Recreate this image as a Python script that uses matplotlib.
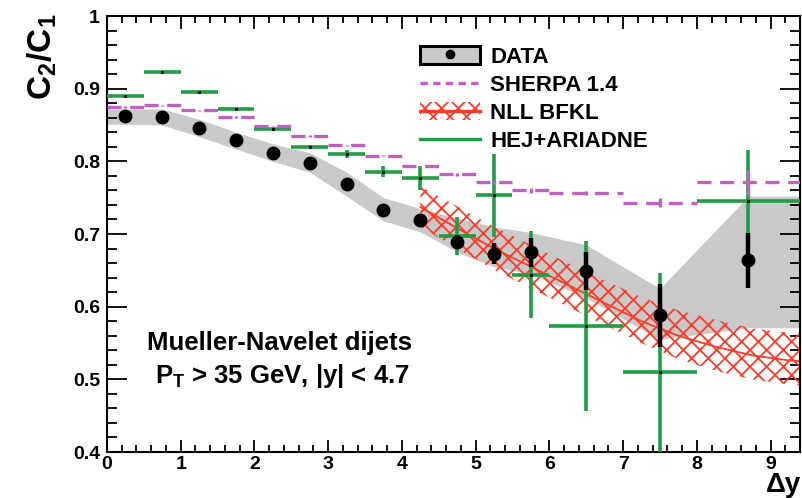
import matplotlib
matplotlib.use("Agg")
import matplotlib.pyplot as plt
import numpy as np
from matplotlib.lines import Line2D
from matplotlib.patches import Patch
from matplotlib.ticker import MultipleLocator, FuncFormatter

# ---- data ---------------------------------------------------------------
bin_edges = [0.0, 0.5, 1.0, 1.5, 2.0, 2.5, 3.0, 3.5, 4.0, 4.5, 5.0, 5.5, 6.0, 7.0, 8.0, 9.4]

data_val = [0.862, 0.861, 0.846, 0.829, 0.812, 0.798, 0.769, 0.733, 0.719,
            0.689, 0.673, 0.675, 0.649, 0.588, 0.664]
data_stat = [0.002, 0.002, 0.002, 0.002, 0.002, 0.002, 0.003, 0.003, 0.004,
             0.010, 0.014, 0.020, 0.026, 0.043, 0.038]
sys_hi = [0.872, 0.872, 0.858, 0.840, 0.824, 0.812, 0.785, 0.750, 0.735,
          0.722, 0.710, 0.702, 0.685, 0.625, 0.752]
sys_lo = [0.851, 0.850, 0.834, 0.817, 0.800, 0.785, 0.752, 0.718, 0.703,
          0.675, 0.655, 0.645, 0.612, 0.555, 0.571]

sherpa_val = [0.875, 0.877, 0.870, 0.861, 0.848, 0.835, 0.822, 0.808, 0.793,
              0.782, 0.771, 0.760, 0.756, 0.743, 0.771]
sherpa_err = [0.001, 0.001, 0.001, 0.001, 0.001, 0.001, 0.001, 0.001, 0.001,
              0.002, 0.002, 0.003, 0.003, 0.006, 0.017]

hej_val = [0.890, 0.923, 0.896, 0.872, 0.844, 0.820, 0.810, 0.786, 0.777,
           0.697, 0.753, 0.644, 0.573, 0.510, 0.745]
hej_err = [0.001, 0.001, 0.001, 0.001, 0.001, 0.002, 0.005, 0.008, 0.016,
           0.026, 0.057, 0.060, 0.117, 0.137, 0.071]

nll_x = [4.25, 4.75, 5.25, 5.75, 6.25, 6.75, 7.25, 7.75, 8.25, 8.75, 9.25, 9.4]
nll_val = [0.737, 0.708, 0.680, 0.655, 0.630, 0.605, 0.580, 0.560, 0.545, 0.533, 0.526, 0.525]
nll_hi = [0.766, 0.738, 0.710, 0.685, 0.660, 0.636, 0.613, 0.595, 0.582, 0.570, 0.564, 0.563]
nll_lo = [0.710, 0.680, 0.651, 0.625, 0.600, 0.575, 0.550, 0.528, 0.512, 0.500, 0.493, 0.492]

legend_labels = ["DATA", "SHERPA 1.4", "NLL BFKL", "HEJ+ARIADNE"]
text_lines = ["Mueller-Navelet dijets", "P$_T$ > 35 GeV, |y| < 4.7"]

# ---- style --------------------------------------------------------------
FONT = "Liberation Sans"
plt.rcParams["font.family"] = [FONT, "DejaVu Sans"]
plt.rcParams["font.weight"] = "bold"
plt.rcParams["mathtext.fontset"] = "custom"
plt.rcParams["mathtext.rm"] = FONT + ":bold"
plt.rcParams["mathtext.bf"] = FONT + ":bold"
plt.rcParams["mathtext.default"] = "rm"
plt.rcParams["hatch.linewidth"] = 1.3

GREEN = "#1f9e45"
MAGENTA = "#c060bf"
RED = "#ff3a26"
GRAY = "#c9c9c9"

edges = np.array(bin_edges)
centers = 0.5 * (edges[:-1] + edges[1:])
half_w = 0.5 * np.diff(edges)

fig = plt.figure(figsize=(8.02, 4.98), dpi=100)
W, H = 802.0, 498.0
ax = fig.add_axes([107 / W, 1 - 452 / H, (800 - 107) / W, (452 - 16) / H])

# systematic band of the measurement
band_x = np.concatenate([[edges[0]], centers, [edges[-1]]])
band_hi = np.concatenate([[sys_hi[0]], sys_hi, [sys_hi[-1]]])
band_lo = np.concatenate([[sys_lo[0]], sys_lo, [sys_lo[-1]]])
ax.fill_between(band_x, band_lo, band_hi, color=GRAY, lw=0, zorder=1)

# NLL BFKL prediction: hatched uncertainty band with central curve
ax.fill_between(nll_x, nll_lo, nll_hi, facecolor="none", edgecolor=RED,
                hatch="xx", linewidth=0, zorder=2)
ax.plot(nll_x, nll_val, color=RED, lw=1.3, zorder=2.2)
ax.axhline(0.4, color=RED, lw=1.2, zorder=2.1)

# HEJ+ARIADNE
ax.errorbar(centers, hej_val, xerr=half_w, yerr=hej_err, fmt="none",
            ecolor=GREEN, elinewidth=2.6, capsize=0, zorder=3)
ax.plot(centers, hej_val, "s", color="black", ms=1.2, zorder=3.1)

# SHERPA 1.4 (dashed)
sh = ax.errorbar(centers, sherpa_val, xerr=half_w, yerr=sherpa_err, fmt="none",
                 ecolor=MAGENTA, elinewidth=2.4, capsize=0, zorder=3.5)
sh[2][0].set_linestyle((0, (4.2, 2.6)))

# data with statistical errors
ax.errorbar(centers, data_val, yerr=data_stat, fmt="o", color="black",
            ms=9, elinewidth=3.2, capsize=0, zorder=4)

# axes
ax.set_xlim(edges[0], edges[-1])
ax.set_ylim(0.4, 1.0)
ax.xaxis.set_major_locator(MultipleLocator(1))
ax.xaxis.set_minor_locator(MultipleLocator(0.2))
ax.yaxis.set_major_locator(MultipleLocator(0.1))
ax.yaxis.set_minor_locator(MultipleLocator(0.02))
ax.yaxis.set_major_formatter(FuncFormatter(lambda v, p: "1" if abs(v - 1) < 1e-6 else f"{v:.1f}"))
ax.xaxis.set_major_formatter(FuncFormatter(lambda v, p: f"{v:.0f}"))

ax.tick_params(which="both", direction="in", top=True, right=True, width=1.3,
               labelsize=14, colors="black")
ax.tick_params(axis="x", which="major", length=9, pad=3)
ax.tick_params(axis="x", which="minor", length=5)
ax.tick_params(axis="y", which="major", length=14.5, pad=5)
ax.tick_params(axis="y", which="minor", length=7.2)
for lab in ax.get_xticklabels() + ax.get_yticklabels():
    lab.set_fontweight("bold")
for s in ax.spines.values():
    s.set_linewidth(1.5)

# axis titles
fig.text(42 / W, 1 - 14 / H, "C$_2$/C$_1$", rotation=90, ha="center", va="top",
         fontsize=24)
fig.text(801 / W, 0.5 / H, "\u0394y", ha="right", va="bottom",
         fontsize=20, fontweight="bold")

# selection text
fig.text(147 / W, 1 - 350 / H, text_lines[0], va="baseline", fontsize=18.5,
         fontweight="bold")
fig.text(155 / W, 1 - 383 / H, text_lines[1], va="baseline", fontsize=18.5,
         fontweight="bold")

# legend
h_data = (Patch(facecolor=GRAY, edgecolor="black", linewidth=2.2),
          Line2D([], [], marker="o", color="black", ls="none", ms=6))
h_sherpa = Line2D([], [], color=MAGENTA, lw=2.4, ls=(0, (2.2, 1.6)))
h_nll = (Patch(facecolor="none", edgecolor=RED, hatch="xx", linewidth=0),
         Line2D([], [], color=RED, lw=2.4))
h_hej = Line2D([], [], color=GREEN, lw=2.4)
leg = fig.legend([h_data, h_sherpa, h_nll, h_hej], legend_labels,
                 loc="upper left", bbox_to_anchor=(420 / W, 1 - 46 / H),
                 frameon=False, borderpad=0, borderaxespad=0,
                 handlelength=2.7, handleheight=0.85, handletextpad=0.45,
                 labelspacing=0.30, prop={"family": FONT, "weight": "bold", "size": 16})

fig.savefig("out.png", dpi=100)
